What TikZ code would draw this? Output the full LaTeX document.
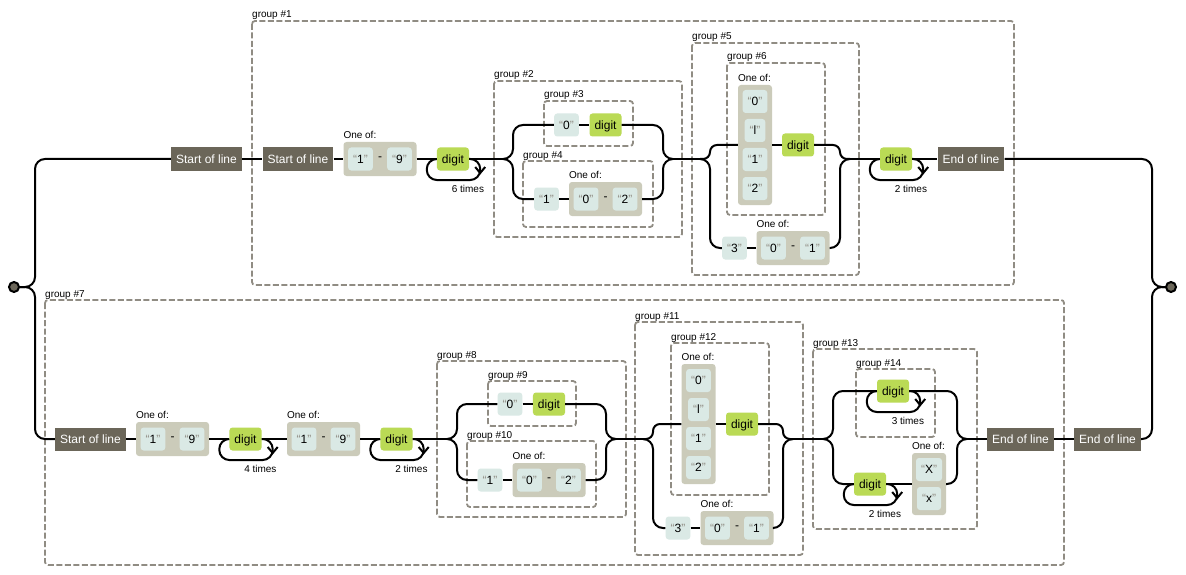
\documentclass[tikz,border=0pt]{standalone}
\usepackage{fontspec}
\setmainfont{Liberation Sans}
\usetikzlibrary{calc}
\definecolor{anchorc}{HTML}{6B6659}
\definecolor{litc}{HTML}{DAE9E5}
\definecolor{escc}{HTML}{BADA55}
\definecolor{setc}{HTML}{CBCBBA}
\definecolor{grpc}{HTML}{908C83}
\definecolor{quotec}{HTML}{908C83}
\newcommand\qtx[1]{\textcolor{quotec}{“}#1\textcolor{quotec}{”}}
\newcommand\mklit[3]{\node[literal] (#1) at (#2) {\qtx{#3}};}
\newcommand\mkgrp[4]{\draw[grp] (#2) rectangle (#3); \node[lbl,anchor=base west] (#1) at ($(#2)+(0,-3)$) {#4};}
\newcommand\mkrange[5]{%
  \node[setbox, minimum width=73pt, minimum height=34pt] (#1) at (#2,#3) {};
  \node[lbl,anchor=base west] (#1l) at ($(#1.north west)+(0,-3)$) {One of:};
  \node[literal] (#1a) at ($(#1)+(-19.5,0)$) {\qtx{#4}};
  \node[literal] (#1b) at ($(#1)+(19.5,0)$) {\qtx{#5}};
  \node[dashtxt] (#1d) at (#1) {-};}
\newcommand\mkvsetfour[7]{%
  \node[setbox, minimum width=34pt, minimum height=120pt] (#1) at (#2,#3) {};
  \node[lbl,anchor=base west] (#1l) at ($(#1.north west)+(0,-3)$) {One of:};
  \node[literal] (#1a) at ($(#1)+(0,-43.5)$) {\qtx{#4}};
  \node[literal] (#1b) at ($(#1)+(0,-14.5)$) {\qtx{#5}};
  \node[literal] (#1c) at ($(#1)+(0,14.5)$) {\qtx{#6}};
  \node[literal] (#1d) at ($(#1)+(0,43.5)$) {\qtx{#7}};}
\newcommand\mkvsettwo[5]{%
  \node[setbox, minimum width=34pt, minimum height=62pt] (#1) at (#2,#3) {};
  \node[lbl,anchor=base west] (#1l) at ($(#1.north west)+(0,-3)$) {One of:};
  \node[literal] (#1a) at ($(#1)+(0,-14.5)$) {\qtx{#4}};
  \node[literal] (#1b) at ($(#1)+(0,14.5)$) {\qtx{#5}};}
\newcommand\mkloop[2]{%
  \draw[rail,rounded corners=10pt] (#1.west) -- ++(-10,0) |- ($(#1.east)+(11,21)$) -- ($(#1.east)+(11,0)$) -- (#1.east);
  \draw[rail] ($(#1.east)+(6,8)$) -- ($(#1.east)+(11,14)$) -- ($(#1.east)+(16,8)$);
  \node[lbl,anchor=base east] (#1t) at ($(#1.east)+(15,33)$) {#2};}

\begin{document}
\begin{tikzpicture}[x=1pt,y=-1pt,
  rail/.style={line width=2pt, draw=black},
  boxbase/.style={inner xsep=5pt, inner ysep=0pt, minimum height=23pt, text height=8.6pt, text depth=0pt, font=\fontsize{12}{14}\selectfont},
  anchorbox/.style={boxbase, fill=anchorc, text=white},
  literal/.style={boxbase, fill=litc, rounded corners=3pt},
  escbox/.style={boxbase, fill=escc, rounded corners=3pt},
  setbox/.style={fill=setc, rounded corners=3pt, inner sep=0pt},
  grp/.style={draw=grpc, line width=1.8pt, dash pattern=on 6pt off 2.5pt, rounded corners=3pt},
  lbl/.style={font=\fontsize{10}{12}\selectfont, inner sep=0pt},
  dashtxt/.style={font=\fontsize{12}{14}\selectfont, inner sep=0pt},
  endpt/.style={circle, fill=anchorc, draw=black, line width=2pt, minimum size=10pt, inner sep=0pt}
]
\useasboundingbox (0,0) rectangle (1186,575);
\fill[white] (0,0) rectangle (1186,575);

% groups
\mkgrp{g1}{252,21}{1014,285}{group \#1}
\mkgrp{g2}{494,81}{682,237}{group \#2}
\mkgrp{g3}{544,101}{633,146}{group \#3}
\mkgrp{g4}{523,161}{653,227}{group \#4}
\mkgrp{g5}{692,43}{859,275}{group \#5}
\mkgrp{g6}{727,63}{825,215}{group \#6}
\mkgrp{g7}{45,300}{1064,565}{group \#7}
\mkgrp{g8}{437,361}{626,517}{group \#8}
\mkgrp{g9}{488,381}{576,426}{group \#9}
\mkgrp{g10}{467,441}{596,507}{group \#10}
\mkgrp{g11}{635,322}{803,555}{group \#11}
\mkgrp{g12}{671,343}{769,495}{group \#12}
\mkgrp{g13}{813,349}{977,529}{group \#13}
\mkgrp{g14}{856,369}{935,437}{group \#14}

% top row nodes
\node[anchorbox] (sol1) at (206.5,159) {Start of line};
\node[anchorbox] (sol2) at (298,159) {Start of line};
\mkrange{cc1}{380}{159}{1}{9}
\node[escbox] (d1) at (453,159) {digit};
\coordinate (s2) at (503,159);
\mklit{l3}{566.5,125}{0}
\node[escbox] (d3) at (605.5,125) {digit};
\mklit{l4}{546.5,199}{1}
\mkrange{cc4}{605.5}{199}{0}{2}
\coordinate (j2) at (673,159);
\coordinate (s5) at (700,159);
\mkvsetfour{cc6}{755}{145}{0}{l}{1}{2}
\node[escbox] (d6) at (798,145) {digit};
\mklit{l5}{734.5,248}{3}
\mkrange{cc5}{793}{248}{0}{1}
\coordinate (j5) at (850,159);
\node[escbox] (d7) at (896,159) {digit};
\node[anchorbox] (eol1) at (971,159) {End of line};

% bottom row nodes
\node[anchorbox] (sol3) at (90.5,439) {Start of line};
\mkrange{cc7}{172.5}{439}{1}{9}
\node[escbox] (d8) at (245.5,439) {digit};
\mkrange{cc8}{323.5}{439}{1}{9}
\node[escbox] (d9) at (396.5,439) {digit};
\coordinate (s8) at (447,439);
\mklit{l9}{510,404}{0}
\node[escbox] (d10) at (549,404) {digit};
\mklit{l10}{490,480}{1}
\mkrange{cc10}{549}{480}{0}{2}
\coordinate (j8) at (616,439);
\coordinate (s11) at (643,439);
\mkvsetfour{cc12}{698.5}{424}{0}{l}{1}{2}
\node[escbox] (d12) at (742,424) {digit};
\mklit{l11}{678,528}{3}
\mkrange{cc11}{737}{528}{0}{1}
\coordinate (j11) at (793,439);
\coordinate (s13) at (823,439);
\node[escbox] (d14) at (893,391) {digit};
\node[escbox] (d15) at (870,484) {digit};
\mkvsettwo{cc15}{929}{484}{X}{x}
\coordinate (j13) at (967,439);
\node[anchorbox] (eol2) at (1020.5,439) {End of line};
\node[anchorbox] (eol3) at (1107.5,439) {End of line};

% rails top
\draw[rail,rounded corners=10pt] (14,287) -| (35,159) -- (sol1.west);
\draw[rail,rounded corners=10pt] (14,287) -| (35,439) -- (sol3.west);
\draw[rail] (sol1.east) -- (sol2.west);
\draw[rail] (sol2.east) -- (cc1.west);
\draw[rail] (cc1.east) -- (d1.west);
\draw[rail] (d1.east) -- (s2);
\draw[rail,rounded corners=10pt] (s2) -| (513,125) -- (l3.west);
\draw[rail,rounded corners=10pt] (s2) -| (513,199) -- (l4.west);
\draw[rail] (l3.east) -- (d3.west);
\draw[rail] (l4.east) -- (cc4.west);
\draw[rail,rounded corners=10pt] (d3.east) -| (663,159) -- (j2);
\draw[rail,rounded corners=10pt] (cc4.east) -| (663,159) -- (j2);
\draw[rail] (j2) -- (s5);
\draw[rail,rounded corners=7pt] (s5) -| (710,145) -- (cc6.west);
\draw[rail,rounded corners=10pt] (s5) -| (710,248) -- (l5.west);
\draw[rail] (cc6.east) -- (d6.west);
\draw[rail] (l5.east) -- (cc5.west);
\draw[rail,rounded corners=7pt] (d6.east) -| (840,159) -- (j5);
\draw[rail,rounded corners=10pt] (cc5.east) -| (840,159) -- (j5);
\draw[rail] (j5) -- (d7.west);
\draw[rail] (d7.east) -- (eol1.west);
\draw[rail,rounded corners=10pt] (eol1.east) -| (1152,287) -- (1171,287);

% rails bottom
\draw[rail] (sol3.east) -- (cc7.west);
\draw[rail] (cc7.east) -- (d8.west);
\draw[rail] (d8.east) -- (cc8.west);
\draw[rail] (cc8.east) -- (d9.west);
\draw[rail] (d9.east) -- (s8);
\draw[rail,rounded corners=10pt] (s8) -| (457,404) -- (l9.west);
\draw[rail,rounded corners=10pt] (s8) -| (457,480) -- (l10.west);
\draw[rail] (l9.east) -- (d10.west);
\draw[rail] (l10.east) -- (cc10.west);
\draw[rail,rounded corners=10pt] (d10.east) -| (606,439) -- (j8);
\draw[rail,rounded corners=10pt] (cc10.east) -| (606,439) -- (j8);
\draw[rail] (j8) -- (s11);
\draw[rail,rounded corners=7pt] (s11) -| (653,424) -- (cc12.west);
\draw[rail,rounded corners=10pt] (s11) -| (653,528) -- (l11.west);
\draw[rail] (cc12.east) -- (d12.west);
\draw[rail] (l11.east) -- (cc11.west);
\draw[rail,rounded corners=7pt] (d12.east) -| (783,439) -- (j11);
\draw[rail,rounded corners=10pt] (cc11.east) -| (783,439) -- (j11);
\draw[rail] (j11) -- (s13);
\draw[rail,rounded corners=10pt] (s13) -| (833,391) -- (d14.west);
\draw[rail,rounded corners=10pt] (s13) -| (833,484) -- (d15.west);
\draw[rail] (d15.east) -- (cc15.west);
\draw[rail,rounded corners=10pt] (d14.east) -| (957,439) -- (j13);
\draw[rail,rounded corners=10pt] (cc15.east) -| (957,439) -- (j13);
\draw[rail] (j13) -- (eol2.west);
\draw[rail] (eol2.east) -- (eol3.west);
\draw[rail,rounded corners=10pt] (eol3.east) -| (1152,287) -- (1171,287);

% loops
\mkloop{d1}{6 times}
\mkloop{d7}{2 times}
\mkloop{d8}{4 times}
\mkloop{d9}{2 times}
\mkloop{d14}{3 times}
\mkloop{d15}{2 times}

% end points
\node[endpt] (c1) at (14,287) {};
\node[endpt] (c2) at (1171,287) {};
\end{tikzpicture}
\end{document}
